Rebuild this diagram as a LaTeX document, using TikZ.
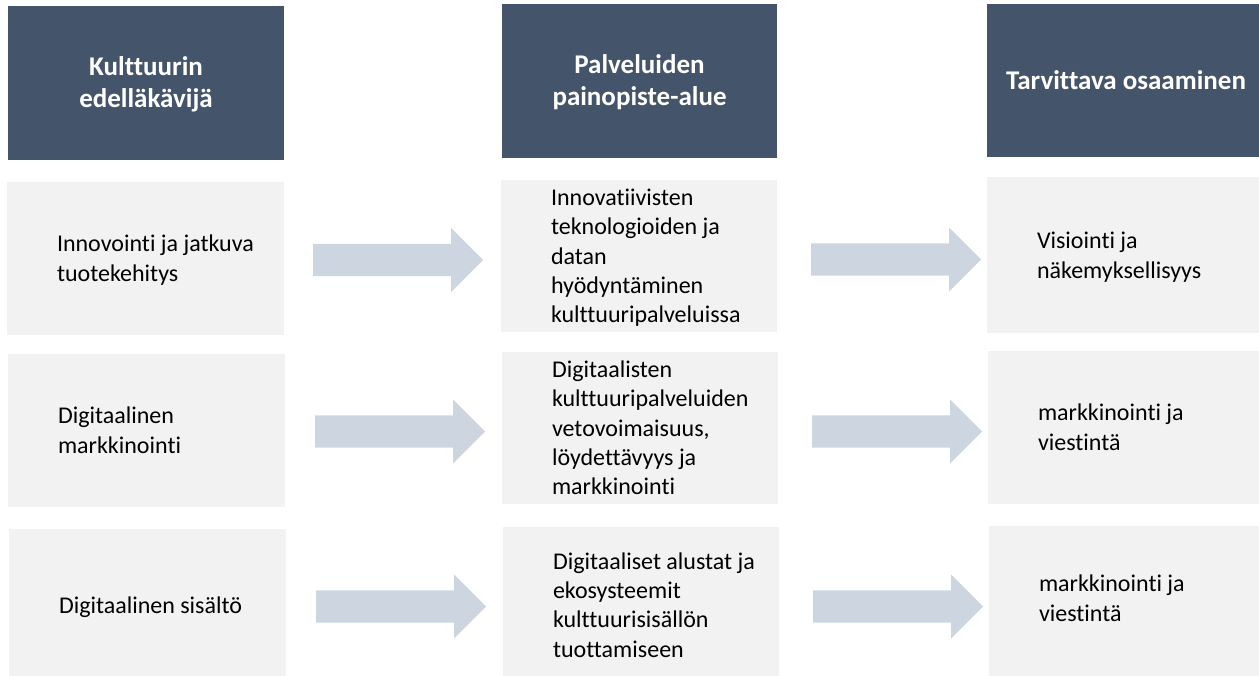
\documentclass[tikz,border=0pt]{standalone}
\usepackage{fontspec}
\setmainfont{Carlito}[Ligatures=NoCommon]
\usetikzlibrary{shapes.arrows}

\definecolor{headfill}{HTML}{44546A}
\definecolor{cellfill}{HTML}{F2F2F2}
\definecolor{arrowfill}{HTML}{CDD5E0}

% line struts: body lines 1.221em apart, header lines 32pt apart
\newcommand\bodystrut{\rule[-0.269em]{0pt}{1.221em}}
\newcommand\headstrut{\rule[-7pt]{0pt}{32pt}}

\begin{document}
\begin{tikzpicture}[x=1pt,y=-1pt,
  head/.style={fill=headfill, draw=none, inner sep=0pt},
  cell/.style={fill=cellfill, draw=none, inner sep=0pt},
  headtext/.style={text=white, font=\fontsize{27}{32}\selectfont\bfseries,
    align=center, inner sep=0pt},
  celltext/.style={text=black, font=\fontsize{24}{29.3}\selectfont,
    align=left, inner sep=0pt, anchor=west},
  flow/.style={single arrow, fill=arrowfill, draw=none, inner xsep=0pt,
    inner ysep=16pt, single arrow head extend=16pt, single arrow tip angle=90,
    minimum height=170pt, minimum width=64pt, anchor=tail}
]
\useasboundingbox (0,0) rectangle (1259,676);

% column headers
\node[head, minimum width=276pt, minimum height=154pt] (h1) at (146,83) {};
\node[head, minimum width=275pt, minimum height=154pt] (h2) at (639.5,81) {};
\node[head, minimum width=278pt, minimum height=153pt] (h3) at (1126,80.5) {};
\node[headtext] (th1) at (h1.center) {\headstrut Kulttuurin\\edelläkävijä\headstrut};
\node[headtext] (th2) at (h2.center) {\headstrut Palveluiden\\painopiste-alue\headstrut};
\node[headtext] (th3) at (h3.center) {\headstrut Tarvittava osaaminen};

% row 1
\node[cell, minimum width=277pt, minimum height=153pt] (l1) at (145.5,258.5) {};
\node[cell, minimum width=276pt, minimum height=152pt] (m1) at (639,256) {};
\node[cell, minimum width=278pt, minimum height=156pt] (r1) at (1126,255) {};
% row 2
\node[cell, minimum width=277pt, minimum height=153pt] (l2) at (146.5,430.5) {};
\node[cell, minimum width=276pt, minimum height=152pt] (m2) at (640,428) {};
\node[cell, minimum width=277pt, minimum height=153pt] (r2) at (1126.5,427.5) {};
% row 3 (runs past the lower edge)
\node[cell, minimum width=277pt, minimum height=152pt] (l3) at (147.5,605) {};
\node[cell, minimum width=276pt, minimum height=156pt] (m3) at (641,605) {};
\node[cell, minimum width=276pt, minimum height=156pt] (r3) at (1127,604) {};

% cell texts
\node[celltext] (tl1) at ([xshift=50pt]l1.west) {\bodystrut Innovointi ja jatkuva\\tuotekehitys\bodystrut};
\node[celltext] (tm1) at ([xshift=50pt]m1.west) {\bodystrut Innovatiivisten\\teknologioiden ja\\datan\\hyödyntäminen\\kulttuuripalveluissa\bodystrut};
\node[celltext] (tr1) at ([xshift=50pt]r1.west) {\bodystrut Visiointi ja\\näkemyksellisyys\bodystrut};

\node[celltext] (tl2) at ([xshift=50pt]l2.west) {\bodystrut Digitaalinen\\markkinointi\bodystrut};
\node[celltext] (tm2) at ([xshift=50pt]m2.west) {\bodystrut Digitaalisten\\kulttuuripalveluiden\\vetovoimaisuus,\\löydettävyys ja\\markkinointi\bodystrut};
\node[celltext] (tr2) at ([xshift=50pt]r2.west) {\bodystrut markkinointi ja\\viestintä\bodystrut};

\node[celltext] (tl3) at ([xshift=50pt]l3.west) {\bodystrut Digitaalinen sisältö\bodystrut};
\node[celltext] (tm3) at ([xshift=50pt]m3.west) {\bodystrut Digitaaliset alustat ja\\ekosysteemit\\kulttuurisisällön\\tuottamiseen\bodystrut};
\node[celltext] (tr3) at ([xshift=50pt,yshift=6pt]r3.west) {\bodystrut markkinointi ja\\viestintä\bodystrut};

% block arrows between the columns
\node[flow] (a11) at (313,260) {};
\node[flow] (a12) at (811,259.5) {};
\node[flow] (a21) at (315,431.5) {};
\node[flow] (a22) at (812,431.5) {};
\node[flow] (a31) at (316,606.5) {};
\node[flow] (a32) at (813,606.5) {};
\end{tikzpicture}
\end{document}
